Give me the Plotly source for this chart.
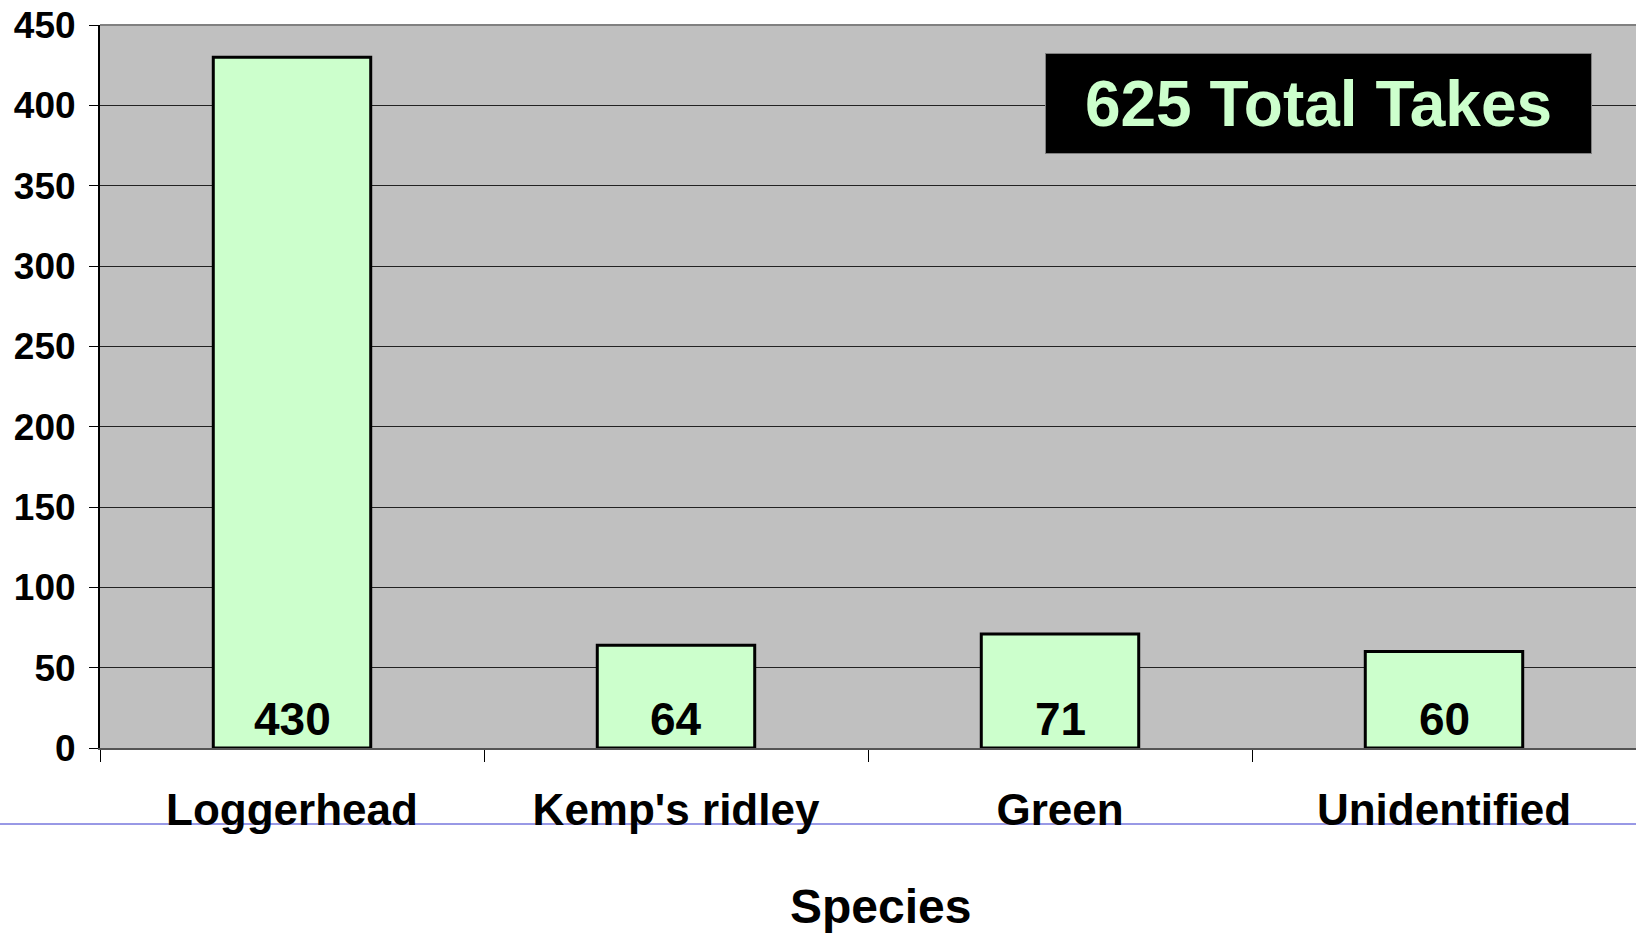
import plotly.graph_objects as go

categories = ["Loggerhead", "Kemp's ridley", "Green", "Unidentified"]
takes = [430, 64, 71, 60]
y_ticks = [0, 50, 100, 150, 200, 250, 300, 350, 400, 450]
x_title = "Species"
total_label = f"{sum(takes)} Total Takes"

W, H = 1636, 933
L, T, R = 100, 25, 0
B = H - 748
plot_w = W - L - R
plot_h = H - T - B

def px_y(page_y):
    return (748 - page_y) / plot_h

def px_x(page_x):
    return (page_x - L) / plot_w

FONT = "Liberation Sans, Arial, sans-serif"

fig = go.Figure()
fig.add_trace(go.Bar(
    x=categories, y=takes,
    width=0.41,
    marker=dict(color="#ccffcc", line=dict(color="black", width=3)),
    hoverinfo="x+y",
))

annotations = []
for c, v in zip(categories, takes):
    annotations.append(dict(
        x=c, y=0, xref="x", yref="y", text=str(v), showarrow=False,
        yanchor="bottom", yshift=1,
        font=dict(family=FONT, size=46, color="black", weight="bold"),
    ))

annotations.append(dict(
    x=px_x(1318.5), y=px_y(103.5),
    xref="paper", yref="paper", xanchor="center", yanchor="middle",
    text=total_label, showarrow=False,
    width=545, height=99, bgcolor="black", bordercolor="#808080",
    borderwidth=1, borderpad=0,
    font=dict(family=FONT, size=64, color="#ccffcc", weight="bold"),
))

annotations.append(dict(
    x=px_x(880), y=px_y(906),
    xref="paper", yref="paper", xanchor="center", yanchor="middle",
    text=x_title, showarrow=False,
    font=dict(family=FONT, size=48, color="black", weight="bold"),
))

shapes = [
    dict(type="line", xref="paper", yref="paper",
         x0=-L / plot_w, x1=1.0, y0=px_y(824), y1=px_y(824),
         line=dict(color="#3333cc", width=1), layer="below"),
    dict(type="line", xref="paper", yref="paper", x0=0, x1=1, y0=1, y1=1,
         line=dict(color="#808080", width=2)),
]

fig.update_layout(
    width=W, height=H,
    margin=dict(l=L, r=R, t=T, b=B, pad=0),
    paper_bgcolor="white",
    plot_bgcolor="#c0c0c0",
    showlegend=False,
    annotations=annotations,
    shapes=shapes,
    font=dict(family=FONT, color="black"),
)

fig.update_xaxes(
    range=[-0.5, 3.5],
    showline=True, linecolor="#555555", linewidth=2,
    ticks="outside", tickson="boundaries", ticklen=12, tickcolor="black", tickwidth=1,
    tickfont=dict(family=FONT, size=44, color="black", weight="bold"),
    ticklabelstandoff=22,
    showgrid=False, zeroline=False,
)
fig.update_yaxes(
    range=[0, 450],
    tickvals=y_ticks,
    showline=True, linecolor="black", linewidth=2,
    ticks="outside", ticklen=9, tickcolor="black", tickwidth=1,
    tickfont=dict(family=FONT, size=37, color="black", weight="bold"),
    ticklabelstandoff=6,
    ticklabeloverflow="allow",
    showgrid=True, gridcolor="#222222", gridwidth=1,
    zeroline=False,
)

fig.write_html(
    "out.html",
    config={"displayModeBar": False},
    post_script="document.body.style.margin='0';document.body.style.overflow='hidden';",
)
